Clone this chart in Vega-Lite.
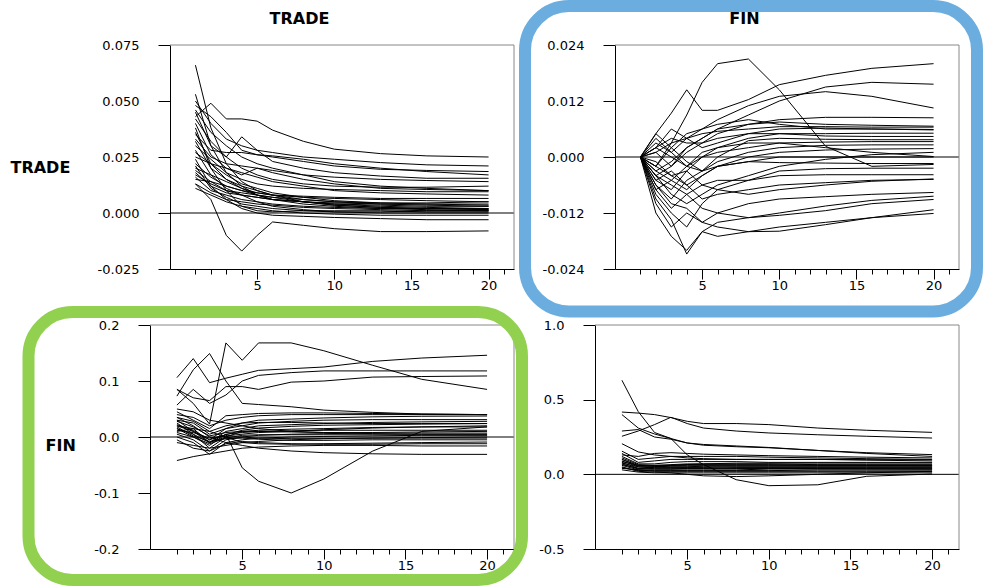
{
"$schema":"https://vega.github.io/schema/vega-lite/v6.json",
"background":"white",
"padding":{"left":10,"top":0,"right":0,"bottom":0},
"autosize":{"type":"pad"},
"columns":2,
"bounds":"flush",
"spacing":{"row":56,"column":81},
"config":{"view":{"stroke":null},"axis":{"grid":false,"domainColor":"black","tickColor":"black","labelColor":"black","labelFont":"DejaVu Sans","labelFontSize":13,"titleFont":"DejaVu Sans","titleFontSize":16,"titleFontWeight":"bold","titleColor":"black","titlePadding":0}},
"datasets":{
"tl":[
{"s":1,"h":1,"v":0.043},{"s":1,"h":2,"v":0.049},{"s":1,"h":3,"v":0.042},{"s":1,"h":4,"v":0.042},{"s":1,"h":5,"v":0.041},{"s":1,"h":6,"v":0.037},{"s":1,"h":8,"v":0.032},{"s":1,"h":10,"v":0.0285},{"s":1,"h":13,"v":0.0265},{"s":1,"h":16,"v":0.0255},{"s":1,"h":20,"v":0.025},
{"s":2,"h":1,"v":0.066},{"s":2,"h":2,"v":0.038},{"s":2,"h":3,"v":0.022},{"s":2,"h":4,"v":0.014},{"s":2,"h":5,"v":0.01},{"s":2,"h":6,"v":0.008},{"s":2,"h":8,"v":0.005},{"s":2,"h":10,"v":0.0035},{"s":2,"h":13,"v":0.0025},{"s":2,"h":16,"v":0.002},{"s":2,"h":20,"v":0.0015},
{"s":3,"h":1,"v":0.053},{"s":3,"h":2,"v":0.03},{"s":3,"h":3,"v":0.018},{"s":3,"h":4,"v":0.012},{"s":3,"h":5,"v":0.008},{"s":3,"h":6,"v":0.006},{"s":3,"h":8,"v":0.004},{"s":3,"h":10,"v":0.003},{"s":3,"h":13,"v":0.002},{"s":3,"h":16,"v":0.0015},{"s":3,"h":20,"v":0.001},
{"s":4,"h":1,"v":0.05},{"s":4,"h":2,"v":0.04},{"s":4,"h":3,"v":0.033},{"s":4,"h":4,"v":0.03},{"s":4,"h":5,"v":0.028},{"s":4,"h":6,"v":0.027},{"s":4,"h":8,"v":0.025},{"s":4,"h":10,"v":0.024},{"s":4,"h":13,"v":0.0225},{"s":4,"h":16,"v":0.0215},{"s":4,"h":20,"v":0.021},
{"s":5,"h":1,"v":0.048},{"s":5,"h":2,"v":0.043},{"s":5,"h":3,"v":0.036},{"s":5,"h":4,"v":0.028},{"s":5,"h":5,"v":0.026},{"s":5,"h":6,"v":0.025},{"s":5,"h":8,"v":0.023},{"s":5,"h":10,"v":0.021},{"s":5,"h":13,"v":0.0195},{"s":5,"h":16,"v":0.019},{"s":5,"h":20,"v":0.0185},
{"s":6,"h":1,"v":0.045},{"s":6,"h":2,"v":0.03},{"s":6,"h":3,"v":0.025},{"s":6,"h":4,"v":0.034},{"s":6,"h":5,"v":0.028},{"s":6,"h":6,"v":0.023},{"s":6,"h":8,"v":0.02},{"s":6,"h":10,"v":0.018},{"s":6,"h":13,"v":0.0165},{"s":6,"h":16,"v":0.0155},{"s":6,"h":20,"v":0.0155},
{"s":7,"h":1,"v":0.04},{"s":7,"h":2,"v":0.026},{"s":7,"h":3,"v":0.02},{"s":7,"h":4,"v":0.017},{"s":7,"h":5,"v":0.02},{"s":7,"h":6,"v":0.019},{"s":7,"h":8,"v":0.017},{"s":7,"h":10,"v":0.016},{"s":7,"h":13,"v":0.015},{"s":7,"h":16,"v":0.0145},{"s":7,"h":20,"v":0.014},
{"s":8,"h":1,"v":0.038},{"s":8,"h":2,"v":0.02},{"s":8,"h":3,"v":0.01},{"s":8,"h":4,"v":0.003},{"s":8,"h":5,"v":0.001},{"s":8,"h":6,"v":0.0005},{"s":8,"h":8,"v":0.001},{"s":8,"h":10,"v":0.001},{"s":8,"h":13,"v":0.001},{"s":8,"h":16,"v":0.0005},{"s":8,"h":20,"v":0.0005},
{"s":9,"h":1,"v":0.033},{"s":9,"h":2,"v":0.025},{"s":9,"h":3,"v":0.022},{"s":9,"h":4,"v":0.021},{"s":9,"h":5,"v":0.02},{"s":9,"h":6,"v":0.018},{"s":9,"h":8,"v":0.015},{"s":9,"h":10,"v":0.013},{"s":9,"h":13,"v":0.011},{"s":9,"h":16,"v":0.0105},{"s":9,"h":20,"v":0.01},
{"s":10,"h":1,"v":0.03},{"s":10,"h":2,"v":0.024},{"s":10,"h":3,"v":0.018},{"s":10,"h":4,"v":0.015},{"s":10,"h":5,"v":0.013},{"s":10,"h":6,"v":0.012},{"s":10,"h":8,"v":0.011},{"s":10,"h":10,"v":0.0105},{"s":10,"h":13,"v":0.01},{"s":10,"h":16,"v":0.0095},{"s":10,"h":20,"v":0.0095},
{"s":11,"h":1,"v":0.025},{"s":11,"h":2,"v":0.022},{"s":11,"h":3,"v":0.02},{"s":11,"h":4,"v":0.018},{"s":11,"h":5,"v":0.016},{"s":11,"h":6,"v":0.014},{"s":11,"h":8,"v":0.012},{"s":11,"h":10,"v":0.01},{"s":11,"h":13,"v":0.009},{"s":11,"h":16,"v":0.0085},{"s":11,"h":20,"v":0.008},
{"s":12,"h":1,"v":0.022},{"s":12,"h":2,"v":0.016},{"s":12,"h":3,"v":0.012},{"s":12,"h":4,"v":0.01},{"s":12,"h":5,"v":0.009},{"s":12,"h":6,"v":0.008},{"s":12,"h":8,"v":0.0075},{"s":12,"h":10,"v":0.007},{"s":12,"h":13,"v":0.0065},{"s":12,"h":16,"v":0.0065},{"s":12,"h":20,"v":0.0065},
{"s":13,"h":1,"v":0.02},{"s":13,"h":2,"v":0.017},{"s":13,"h":3,"v":0.014},{"s":13,"h":4,"v":0.011},{"s":13,"h":5,"v":0.008},{"s":13,"h":6,"v":0.006},{"s":13,"h":8,"v":0.005},{"s":13,"h":10,"v":0.0045},{"s":13,"h":13,"v":0.004},{"s":13,"h":16,"v":0.004},{"s":13,"h":20,"v":0.004},
{"s":14,"h":1,"v":0.018},{"s":14,"h":2,"v":0.012},{"s":14,"h":3,"v":0.009},{"s":14,"h":4,"v":0.008},{"s":14,"h":5,"v":0.007},{"s":14,"h":6,"v":0.006},{"s":14,"h":8,"v":0.005},{"s":14,"h":10,"v":0.004},{"s":14,"h":13,"v":0.0035},{"s":14,"h":16,"v":0.003},{"s":14,"h":20,"v":0.003},
{"s":15,"h":1,"v":0.016},{"s":15,"h":2,"v":0.01},{"s":15,"h":3,"v":0.008},{"s":15,"h":4,"v":0.006},{"s":15,"h":5,"v":0.005},{"s":15,"h":6,"v":0.004},{"s":15,"h":8,"v":0.003},{"s":15,"h":10,"v":0.0025},{"s":15,"h":13,"v":0.002},{"s":15,"h":16,"v":0.002},{"s":15,"h":20,"v":0.002},
{"s":16,"h":1,"v":0.015},{"s":16,"h":2,"v":0.014},{"s":16,"h":3,"v":0.012},{"s":16,"h":4,"v":0.01},{"s":16,"h":5,"v":0.008},{"s":16,"h":6,"v":0.007},{"s":16,"h":8,"v":0.005},{"s":16,"h":10,"v":0.0035},{"s":16,"h":13,"v":0.0025},{"s":16,"h":16,"v":0.002},{"s":16,"h":20,"v":0.0015},
{"s":17,"h":1,"v":0.013},{"s":17,"h":2,"v":0.009},{"s":17,"h":3,"v":0.006},{"s":17,"h":4,"v":0.005},{"s":17,"h":5,"v":0.004},{"s":17,"h":6,"v":0.0035},{"s":17,"h":8,"v":0.0025},{"s":17,"h":10,"v":0.002},{"s":17,"h":13,"v":0.0015},{"s":17,"h":16,"v":0.001},{"s":17,"h":20,"v":0.001},
{"s":18,"h":1,"v":0.013},{"s":18,"h":2,"v":0.006},{"s":18,"h":3,"v":-0.01},{"s":18,"h":4,"v":-0.017},{"s":18,"h":5,"v":-0.01},{"s":18,"h":6,"v":-0.004},{"s":18,"h":8,"v":-0.0055},{"s":18,"h":10,"v":-0.007},{"s":18,"h":13,"v":-0.0083},{"s":18,"h":16,"v":-0.0083},{"s":18,"h":20,"v":-0.008},
{"s":19,"h":1,"v":0.011},{"s":19,"h":2,"v":0.008},{"s":19,"h":3,"v":0.005},{"s":19,"h":4,"v":0.003},{"s":19,"h":5,"v":0.002},{"s":19,"h":6,"v":0.001},{"s":19,"h":8,"v":0},{"s":19,"h":10,"v":-0.0005},{"s":19,"h":13,"v":-0.001},{"s":19,"h":16,"v":-0.001},{"s":19,"h":20,"v":-0.001},
{"s":20,"h":1,"v":0.024},{"s":20,"h":2,"v":0.012},{"s":20,"h":3,"v":0.006},{"s":20,"h":4,"v":0.002},{"s":20,"h":5,"v":0},{"s":20,"h":6,"v":-0.001},{"s":20,"h":8,"v":-0.0015},{"s":20,"h":10,"v":-0.002},{"s":20,"h":13,"v":-0.0025},{"s":20,"h":16,"v":-0.003},{"s":20,"h":20,"v":-0.003},
{"s":21,"h":1,"v":0.019},{"s":21,"h":2,"v":0.014},{"s":21,"h":3,"v":0.01},{"s":21,"h":4,"v":0.008},{"s":21,"h":5,"v":0.005},{"s":21,"h":6,"v":0.003},{"s":21,"h":8,"v":0.0015},{"s":21,"h":10,"v":0.0005},{"s":21,"h":13,"v":0},{"s":21,"h":16,"v":0},{"s":21,"h":20,"v":0},
{"s":22,"h":1,"v":0.028},{"s":22,"h":2,"v":0.017},{"s":22,"h":3,"v":0.011},{"s":22,"h":4,"v":0.008},{"s":22,"h":5,"v":0.007},{"s":22,"h":6,"v":0.006},{"s":22,"h":8,"v":0.005},{"s":22,"h":10,"v":0.004},{"s":22,"h":13,"v":0.003},{"s":22,"h":16,"v":0.0025},{"s":22,"h":20,"v":0.002},
{"s":23,"h":1,"v":0.042},{"s":23,"h":2,"v":0.032},{"s":23,"h":3,"v":0.025},{"s":23,"h":4,"v":0.02},{"s":23,"h":5,"v":0.017},{"s":23,"h":6,"v":0.015},{"s":23,"h":8,"v":0.013},{"s":23,"h":10,"v":0.012},{"s":23,"h":13,"v":0.0115},{"s":23,"h":16,"v":0.0115},{"s":23,"h":20,"v":0.012},
{"s":24,"h":1,"v":0.035},{"s":24,"h":2,"v":0.028},{"s":24,"h":3,"v":0.027},{"s":24,"h":4,"v":0.027},{"s":24,"h":5,"v":0.026},{"s":24,"h":6,"v":0.0255},{"s":24,"h":8,"v":0.024},{"s":24,"h":10,"v":0.022},{"s":24,"h":13,"v":0.02},{"s":24,"h":16,"v":0.0185},{"s":24,"h":20,"v":0.017},
{"s":25,"h":1,"v":0.032},{"s":25,"h":2,"v":0.02},{"s":25,"h":3,"v":0.015},{"s":25,"h":4,"v":0.012},{"s":25,"h":5,"v":0.01},{"s":25,"h":6,"v":0.008},{"s":25,"h":8,"v":0.006},{"s":25,"h":10,"v":0.005},{"s":25,"h":13,"v":0.004},{"s":25,"h":16,"v":0.0035},{"s":25,"h":20,"v":0.003},
{"s":26,"h":1,"v":0.027},{"s":26,"h":2,"v":0.022},{"s":26,"h":3,"v":0.017},{"s":26,"h":4,"v":0.013},{"s":26,"h":5,"v":0.011},{"s":26,"h":6,"v":0.009},{"s":26,"h":8,"v":0.007},{"s":26,"h":10,"v":0.0055},{"s":26,"h":13,"v":0.0045},{"s":26,"h":16,"v":0.004},{"s":26,"h":20,"v":0.0035},
{"s":27,"h":1,"v":0.017},{"s":27,"h":2,"v":0.013},{"s":27,"h":3,"v":0.01},{"s":27,"h":4,"v":0.009},{"s":27,"h":5,"v":0.008},{"s":27,"h":6,"v":0.007},{"s":27,"h":8,"v":0.006},{"s":27,"h":10,"v":0.005},{"s":27,"h":13,"v":0.0045},{"s":27,"h":16,"v":0.0045},{"s":27,"h":20,"v":0.005},
{"s":28,"h":1,"v":0.046},{"s":28,"h":2,"v":0.036},{"s":28,"h":3,"v":0.03},{"s":28,"h":4,"v":0.025},{"s":28,"h":5,"v":0.022},{"s":28,"h":6,"v":0.02},{"s":28,"h":8,"v":0.017},{"s":28,"h":10,"v":0.014},{"s":28,"h":13,"v":0.012},{"s":28,"h":16,"v":0.011},{"s":28,"h":20,"v":0.01},
{"s":29,"h":1,"v":0.021},{"s":29,"h":2,"v":0.011},{"s":29,"h":3,"v":0.007},{"s":29,"h":4,"v":0.004},{"s":29,"h":5,"v":0.003},{"s":29,"h":6,"v":0.002},{"s":29,"h":8,"v":0.001},{"s":29,"h":10,"v":0.0005},{"s":29,"h":13,"v":0.0005},{"s":29,"h":16,"v":0.001},{"s":29,"h":20,"v":0.001},
{"s":30,"h":1,"v":0.036},{"s":30,"h":2,"v":0.022},{"s":30,"h":3,"v":0.015},{"s":30,"h":4,"v":0.011},{"s":30,"h":5,"v":0.009},{"s":30,"h":6,"v":0.008},{"s":30,"h":8,"v":0.007},{"s":30,"h":10,"v":0.0065},{"s":30,"h":13,"v":0.006},{"s":30,"h":16,"v":0.0055},{"s":30,"h":20,"v":0.005}
],
"tr":[
{"s":1,"h":1,"v":0},{"s":1,"h":2,"v":-0.002},{"s":1,"h":3,"v":0.003},{"s":1,"h":4,"v":0.009},{"s":1,"h":5,"v":0.016},{"s":1,"h":6,"v":0.02},{"s":1,"h":8,"v":0.021},{"s":1,"h":10,"v":0.0144},{"s":1,"h":13,"v":0.0023},{"s":1,"h":16,"v":-0.002},{"s":1,"h":20,"v":-0.0016},
{"s":2,"h":1,"v":0},{"s":2,"h":2,"v":0.005},{"s":2,"h":3,"v":0.0094},{"s":2,"h":4,"v":0.0144},{"s":2,"h":5,"v":0.01},{"s":2,"h":6,"v":0.01},{"s":2,"h":8,"v":0.0123},{"s":2,"h":10,"v":0.0155},{"s":2,"h":13,"v":0.0175},{"s":2,"h":16,"v":0.019},{"s":2,"h":20,"v":0.02},
{"s":3,"h":1,"v":0},{"s":3,"h":2,"v":-0.003},{"s":3,"h":3,"v":-0.001},{"s":3,"h":4,"v":0.002},{"s":3,"h":5,"v":0.004},{"s":3,"h":6,"v":0.006},{"s":3,"h":8,"v":0.009},{"s":3,"h":10,"v":0.012},{"s":3,"h":13,"v":0.015},{"s":3,"h":16,"v":0.016},{"s":3,"h":20,"v":0.0156},
{"s":4,"h":1,"v":0},{"s":4,"h":2,"v":0.001},{"s":4,"h":3,"v":0.003},{"s":4,"h":4,"v":0.004},{"s":4,"h":5,"v":0.006},{"s":4,"h":6,"v":0.008},{"s":4,"h":8,"v":0.011},{"s":4,"h":10,"v":0.013},{"s":4,"h":13,"v":0.014},{"s":4,"h":16,"v":0.013},{"s":4,"h":20,"v":0.0105},
{"s":5,"h":1,"v":0},{"s":5,"h":2,"v":-0.004},{"s":5,"h":3,"v":-0.002},{"s":5,"h":4,"v":0.001},{"s":5,"h":5,"v":0.003},{"s":5,"h":6,"v":0.005},{"s":5,"h":8,"v":0.007},{"s":5,"h":10,"v":0.008},{"s":5,"h":13,"v":0.0085},{"s":5,"h":16,"v":0.0085},{"s":5,"h":20,"v":0.0084},
{"s":6,"h":1,"v":0},{"s":6,"h":2,"v":0.003},{"s":6,"h":3,"v":0.001},{"s":6,"h":4,"v":0.004},{"s":6,"h":5,"v":0.005},{"s":6,"h":6,"v":0.0055},{"s":6,"h":8,"v":0.006},{"s":6,"h":10,"v":0.0065},{"s":6,"h":13,"v":0.0065},{"s":6,"h":16,"v":0.0064},{"s":6,"h":20,"v":0.0064},
{"s":7,"h":1,"v":0},{"s":7,"h":2,"v":-0.005},{"s":7,"h":3,"v":-0.007},{"s":7,"h":4,"v":-0.003},{"s":7,"h":5,"v":0},{"s":7,"h":6,"v":0.002},{"s":7,"h":8,"v":0.004},{"s":7,"h":10,"v":0.005},{"s":7,"h":13,"v":0.005},{"s":7,"h":16,"v":0.0051},{"s":7,"h":20,"v":0.0051},
{"s":8,"h":1,"v":0},{"s":8,"h":2,"v":0.002},{"s":8,"h":3,"v":0.004},{"s":8,"h":4,"v":0.003},{"s":8,"h":5,"v":0.003},{"s":8,"h":6,"v":0.004},{"s":8,"h":8,"v":0.005},{"s":8,"h":10,"v":0.005},{"s":8,"h":13,"v":0.0045},{"s":8,"h":16,"v":0.0044},{"s":8,"h":20,"v":0.0044},
{"s":9,"h":1,"v":0},{"s":9,"h":2,"v":-0.006},{"s":9,"h":3,"v":-0.009},{"s":9,"h":4,"v":-0.005},{"s":9,"h":5,"v":-0.003},{"s":9,"h":6,"v":-0.001},{"s":9,"h":8,"v":0.001},{"s":9,"h":10,"v":0.002},{"s":9,"h":13,"v":0.0025},{"s":9,"h":16,"v":0.0026},{"s":9,"h":20,"v":0.0026},
{"s":10,"h":1,"v":0},{"s":10,"h":2,"v":0.002},{"s":10,"h":3,"v":0},{"s":10,"h":4,"v":-0.002},{"s":10,"h":5,"v":0},{"s":10,"h":6,"v":0.001},{"s":10,"h":8,"v":0.002},{"s":10,"h":10,"v":0.003},{"s":10,"h":13,"v":0.0032},{"s":10,"h":16,"v":0.0033},{"s":10,"h":20,"v":0.0033},
{"s":11,"h":1,"v":0},{"s":11,"h":2,"v":-0.003},{"s":11,"h":3,"v":-0.005},{"s":11,"h":4,"v":-0.007},{"s":11,"h":5,"v":-0.004},{"s":11,"h":6,"v":-0.002},{"s":11,"h":8,"v":-0.001},{"s":11,"h":10,"v":0},{"s":11,"h":13,"v":0},{"s":11,"h":16,"v":0},{"s":11,"h":20,"v":0},
{"s":12,"h":1,"v":0},{"s":12,"h":2,"v":-0.008},{"s":12,"h":3,"v":-0.012},{"s":12,"h":4,"v":-0.015},{"s":12,"h":5,"v":-0.01},{"s":12,"h":6,"v":-0.007},{"s":12,"h":8,"v":-0.005},{"s":12,"h":10,"v":-0.003},{"s":12,"h":13,"v":-0.0025},{"s":12,"h":16,"v":-0.0024},{"s":12,"h":20,"v":-0.0024},
{"s":13,"h":1,"v":0},{"s":13,"h":2,"v":-0.004},{"s":13,"h":3,"v":-0.006},{"s":13,"h":4,"v":-0.008},{"s":13,"h":5,"v":-0.006},{"s":13,"h":6,"v":-0.005},{"s":13,"h":8,"v":-0.005},{"s":13,"h":10,"v":-0.004},{"s":13,"h":13,"v":-0.0038},{"s":13,"h":16,"v":-0.0038},{"s":13,"h":20,"v":-0.0038},
{"s":14,"h":1,"v":0},{"s":14,"h":2,"v":-0.002},{"s":14,"h":3,"v":-0.004},{"s":14,"h":4,"v":-0.003},{"s":14,"h":5,"v":-0.006},{"s":14,"h":6,"v":-0.007},{"s":14,"h":8,"v":-0.008},{"s":14,"h":10,"v":-0.007},{"s":14,"h":13,"v":-0.006},{"s":14,"h":16,"v":-0.0052},{"s":14,"h":20,"v":-0.0047},
{"s":15,"h":1,"v":0},{"s":15,"h":2,"v":-0.01},{"s":15,"h":3,"v":-0.015},{"s":15,"h":4,"v":-0.012},{"s":15,"h":5,"v":-0.014},{"s":15,"h":6,"v":-0.012},{"s":15,"h":8,"v":-0.01},{"s":15,"h":10,"v":-0.009},{"s":15,"h":13,"v":-0.0085},{"s":15,"h":16,"v":-0.008},{"s":15,"h":20,"v":-0.0076},
{"s":16,"h":1,"v":0},{"s":16,"h":2,"v":-0.007},{"s":16,"h":3,"v":-0.011},{"s":16,"h":4,"v":-0.008},{"s":16,"h":5,"v":-0.011},{"s":16,"h":6,"v":-0.012},{"s":16,"h":8,"v":-0.013},{"s":16,"h":10,"v":-0.012},{"s":16,"h":13,"v":-0.0105},{"s":16,"h":16,"v":-0.0093},{"s":16,"h":20,"v":-0.0084},
{"s":17,"h":1,"v":0},{"s":17,"h":2,"v":-0.012},{"s":17,"h":3,"v":-0.017},{"s":17,"h":4,"v":-0.02},{"s":17,"h":5,"v":-0.016},{"s":17,"h":6,"v":-0.014},{"s":17,"h":8,"v":-0.013},{"s":17,"h":10,"v":-0.0125},{"s":17,"h":13,"v":-0.0115},{"s":17,"h":16,"v":-0.01},{"s":17,"h":20,"v":-0.0091},
{"s":18,"h":1,"v":0},{"s":18,"h":2,"v":-0.009},{"s":18,"h":3,"v":-0.0134},{"s":18,"h":4,"v":-0.0208},{"s":18,"h":5,"v":-0.016},{"s":18,"h":6,"v":-0.017},{"s":18,"h":8,"v":-0.016},{"s":18,"h":10,"v":-0.0159},{"s":18,"h":13,"v":-0.0145},{"s":18,"h":16,"v":-0.013},{"s":18,"h":20,"v":-0.0113},
{"s":19,"h":1,"v":0},{"s":19,"h":2,"v":-0.006},{"s":19,"h":3,"v":-0.01},{"s":19,"h":4,"v":-0.011},{"s":19,"h":5,"v":-0.014},{"s":19,"h":6,"v":-0.015},{"s":19,"h":8,"v":-0.016},{"s":19,"h":10,"v":-0.015},{"s":19,"h":13,"v":-0.014},{"s":19,"h":16,"v":-0.013},{"s":19,"h":20,"v":-0.0121},
{"s":20,"h":1,"v":0},{"s":20,"h":2,"v":0.004},{"s":20,"h":3,"v":0.001},{"s":20,"h":4,"v":-0.002},{"s":20,"h":5,"v":0.001},{"s":20,"h":6,"v":0.002},{"s":20,"h":8,"v":0.003},{"s":20,"h":10,"v":0.003},{"s":20,"h":13,"v":0.002},{"s":20,"h":16,"v":0.001},{"s":20,"h":20,"v":0.0001},
{"s":21,"h":1,"v":0},{"s":21,"h":2,"v":-0.002},{"s":21,"h":3,"v":0.002},{"s":21,"h":4,"v":0.005},{"s":21,"h":5,"v":0.006},{"s":21,"h":6,"v":0.007},{"s":21,"h":8,"v":0.008},{"s":21,"h":10,"v":0.007},{"s":21,"h":13,"v":0.006},{"s":21,"h":16,"v":0.006},{"s":21,"h":20,"v":0.0059},
{"s":22,"h":1,"v":0},{"s":22,"h":2,"v":-0.007},{"s":22,"h":3,"v":-0.005},{"s":22,"h":4,"v":-0.002},{"s":22,"h":5,"v":-0.003},{"s":22,"h":6,"v":-0.002},{"s":22,"h":8,"v":-0.001},{"s":22,"h":10,"v":-0.0012},{"s":22,"h":13,"v":-0.0013},{"s":22,"h":16,"v":-0.0014},{"s":22,"h":20,"v":-0.0014},
{"s":23,"h":1,"v":0},{"s":23,"h":2,"v":0.005},{"s":23,"h":3,"v":0.002},{"s":23,"h":4,"v":-0.001},{"s":23,"h":5,"v":-0.003},{"s":23,"h":6,"v":0},{"s":23,"h":8,"v":0.0035},{"s":23,"h":10,"v":0.004},{"s":23,"h":13,"v":0.0038},{"s":23,"h":16,"v":0.0037},{"s":23,"h":20,"v":0.0037},
{"s":24,"h":1,"v":0},{"s":24,"h":2,"v":-0.004},{"s":24,"h":3,"v":-0.008},{"s":24,"h":4,"v":-0.01},{"s":24,"h":5,"v":-0.008},{"s":24,"h":6,"v":-0.006},{"s":24,"h":8,"v":-0.004},{"s":24,"h":10,"v":-0.002},{"s":24,"h":13,"v":-0.0005},{"s":24,"h":16,"v":0.0005},{"s":24,"h":20,"v":0.001},
{"s":25,"h":1,"v":0},{"s":25,"h":2,"v":0.002},{"s":25,"h":3,"v":0.006},{"s":25,"h":4,"v":0.004},{"s":25,"h":5,"v":0.002},{"s":25,"h":6,"v":0.003},{"s":25,"h":8,"v":0.005},{"s":25,"h":10,"v":0.006},{"s":25,"h":13,"v":0.0062},{"s":25,"h":16,"v":0.006},{"s":25,"h":20,"v":0.0058},
{"s":26,"h":1,"v":0},{"s":26,"h":2,"v":-0.001},{"s":26,"h":3,"v":-0.004},{"s":26,"h":4,"v":-0.006},{"s":26,"h":5,"v":-0.009},{"s":26,"h":6,"v":-0.008},{"s":26,"h":8,"v":-0.007},{"s":26,"h":10,"v":-0.006},{"s":26,"h":13,"v":-0.0055},{"s":26,"h":16,"v":-0.005},{"s":26,"h":20,"v":-0.0048},
{"s":27,"h":1,"v":0},{"s":27,"h":2,"v":0.001},{"s":27,"h":3,"v":-0.002},{"s":27,"h":4,"v":0.002},{"s":27,"h":5,"v":0.004},{"s":27,"h":6,"v":0.006},{"s":27,"h":8,"v":0.007},{"s":27,"h":10,"v":0.0075},{"s":27,"h":13,"v":0.007},{"s":27,"h":16,"v":0.0068},{"s":27,"h":20,"v":0.0066},
{"s":28,"h":1,"v":0},{"s":28,"h":2,"v":-0.005},{"s":28,"h":3,"v":-0.003},{"s":28,"h":4,"v":-0.006},{"s":28,"h":5,"v":-0.004},{"s":28,"h":6,"v":-0.002},{"s":28,"h":8,"v":0},{"s":28,"h":10,"v":0.001},{"s":28,"h":13,"v":0.0015},{"s":28,"h":16,"v":0.0017},{"s":28,"h":20,"v":0.0018}
],
"bl":[
{"s":1,"h":1,"v":0.085},{"s":1,"h":2,"v":0.06},{"s":1,"h":3,"v":0.023},{"s":1,"h":4,"v":0.168},{"s":1,"h":5,"v":0.137},{"s":1,"h":6,"v":0.168},{"s":1,"h":8,"v":0.168},{"s":1,"h":10,"v":0.154},{"s":1,"h":13,"v":0.128},{"s":1,"h":16,"v":0.103},{"s":1,"h":20,"v":0.085},
{"s":2,"h":1,"v":0.106},{"s":2,"h":2,"v":0.14},{"s":2,"h":3,"v":0.097},{"s":2,"h":4,"v":0.105},{"s":2,"h":5,"v":0.112},{"s":2,"h":6,"v":0.119},{"s":2,"h":8,"v":0.122},{"s":2,"h":10,"v":0.125},{"s":2,"h":13,"v":0.135},{"s":2,"h":16,"v":0.141},{"s":2,"h":20,"v":0.146},
{"s":3,"h":1,"v":0.073},{"s":3,"h":2,"v":0.12},{"s":3,"h":3,"v":0.149},{"s":3,"h":4,"v":0.1},{"s":3,"h":5,"v":0.06},{"s":3,"h":6,"v":0.058},{"s":3,"h":8,"v":0.054},{"s":3,"h":10,"v":0.048},{"s":3,"h":13,"v":0.044},{"s":3,"h":16,"v":0.041},{"s":3,"h":20,"v":0.04},
{"s":4,"h":1,"v":0.085},{"s":4,"h":2,"v":0.07},{"s":4,"h":3,"v":0.065},{"s":4,"h":4,"v":0.09},{"s":4,"h":5,"v":0.09},{"s":4,"h":6,"v":0.085},{"s":4,"h":8,"v":0.098},{"s":4,"h":10,"v":0.1},{"s":4,"h":13,"v":0.107},{"s":4,"h":16,"v":0.108},{"s":4,"h":20,"v":0.109},
{"s":5,"h":1,"v":0.057},{"s":5,"h":2,"v":0.085},{"s":5,"h":3,"v":0.06},{"s":5,"h":4,"v":0.075},{"s":5,"h":5,"v":0.1},{"s":5,"h":6,"v":0.11},{"s":5,"h":8,"v":0.115},{"s":5,"h":10,"v":0.118},{"s":5,"h":13,"v":0.118},{"s":5,"h":16,"v":0.118},{"s":5,"h":20,"v":0.118},
{"s":6,"h":1,"v":0.03},{"s":6,"h":2,"v":0.01},{"s":6,"h":3,"v":-0.01},{"s":6,"h":4,"v":0.005},{"s":6,"h":5,"v":-0.055},{"s":6,"h":6,"v":-0.079},{"s":6,"h":8,"v":-0.1},{"s":6,"h":10,"v":-0.075},{"s":6,"h":13,"v":-0.025},{"s":6,"h":16,"v":0.01},{"s":6,"h":20,"v":0.018},
{"s":7,"h":1,"v":0.04},{"s":7,"h":2,"v":0.035},{"s":7,"h":3,"v":0.02},{"s":7,"h":4,"v":0.03},{"s":7,"h":5,"v":0.035},{"s":7,"h":6,"v":0.038},{"s":7,"h":8,"v":0.04},{"s":7,"h":10,"v":0.04},{"s":7,"h":13,"v":0.04},{"s":7,"h":16,"v":0.04},{"s":7,"h":20,"v":0.04},
{"s":8,"h":1,"v":0.03},{"s":8,"h":2,"v":0.025},{"s":8,"h":3,"v":0.005},{"s":8,"h":4,"v":0.015},{"s":8,"h":5,"v":0.025},{"s":8,"h":6,"v":0.03},{"s":8,"h":8,"v":0.032},{"s":8,"h":10,"v":0.034},{"s":8,"h":13,"v":0.036},{"s":8,"h":16,"v":0.037},{"s":8,"h":20,"v":0.0375},
{"s":9,"h":1,"v":0.02},{"s":9,"h":2,"v":0.01},{"s":9,"h":3,"v":-0.005},{"s":9,"h":4,"v":0.015},{"s":9,"h":5,"v":0.02},{"s":9,"h":6,"v":0.025},{"s":9,"h":8,"v":0.028},{"s":9,"h":10,"v":0.03},{"s":9,"h":13,"v":0.031},{"s":9,"h":16,"v":0.031},{"s":9,"h":20,"v":0.031},
{"s":10,"h":1,"v":0.01},{"s":10,"h":2,"v":0.015},{"s":10,"h":3,"v":-0.01},{"s":10,"h":4,"v":0.01},{"s":10,"h":5,"v":0.015},{"s":10,"h":6,"v":0.02},{"s":10,"h":8,"v":0.022},{"s":10,"h":10,"v":0.024},{"s":10,"h":13,"v":0.026},{"s":10,"h":16,"v":0.027},{"s":10,"h":20,"v":0.028},
{"s":11,"h":1,"v":0.025},{"s":11,"h":2,"v":0.005},{"s":11,"h":3,"v":-0.02},{"s":11,"h":4,"v":0},{"s":11,"h":5,"v":0.01},{"s":11,"h":6,"v":0.012},{"s":11,"h":8,"v":0.014},{"s":11,"h":10,"v":0.015},{"s":11,"h":13,"v":0.017},{"s":11,"h":16,"v":0.018},{"s":11,"h":20,"v":0.018},
{"s":12,"h":1,"v":0.015},{"s":12,"h":2,"v":0},{"s":12,"h":3,"v":-0.015},{"s":12,"h":4,"v":0.005},{"s":12,"h":5,"v":0.008},{"s":12,"h":6,"v":0.01},{"s":12,"h":8,"v":0.011},{"s":12,"h":10,"v":0.012},{"s":12,"h":13,"v":0.012},{"s":12,"h":16,"v":0.012},{"s":12,"h":20,"v":0.012},
{"s":13,"h":1,"v":0.005},{"s":13,"h":2,"v":-0.005},{"s":13,"h":3,"v":-0.025},{"s":13,"h":4,"v":-0.005},{"s":13,"h":5,"v":0},{"s":13,"h":6,"v":0.003},{"s":13,"h":8,"v":0.005},{"s":13,"h":10,"v":0.006},{"s":13,"h":13,"v":0.007},{"s":13,"h":16,"v":0.007},{"s":13,"h":20,"v":0.007},
{"s":14,"h":1,"v":0},{"s":14,"h":2,"v":-0.01},{"s":14,"h":3,"v":-0.031},{"s":14,"h":4,"v":-0.01},{"s":14,"h":5,"v":-0.005},{"s":14,"h":6,"v":-0.002},{"s":14,"h":8,"v":0},{"s":14,"h":10,"v":0.001},{"s":14,"h":13,"v":0.002},{"s":14,"h":16,"v":0.003},{"s":14,"h":20,"v":0.003},
{"s":15,"h":1,"v":-0.01},{"s":15,"h":2,"v":-0.015},{"s":15,"h":3,"v":-0.02},{"s":15,"h":4,"v":-0.015},{"s":15,"h":5,"v":-0.01},{"s":15,"h":6,"v":-0.008},{"s":15,"h":8,"v":-0.005},{"s":15,"h":10,"v":-0.003},{"s":15,"h":13,"v":-0.002},{"s":15,"h":16,"v":-0.002},{"s":15,"h":20,"v":-0.002},
{"s":16,"h":1,"v":-0.042},{"s":16,"h":2,"v":-0.035},{"s":16,"h":3,"v":-0.03},{"s":16,"h":4,"v":-0.025},{"s":16,"h":5,"v":-0.02},{"s":16,"h":6,"v":-0.018},{"s":16,"h":8,"v":-0.016},{"s":16,"h":10,"v":-0.015},{"s":16,"h":13,"v":-0.015},{"s":16,"h":16,"v":-0.016},{"s":16,"h":20,"v":-0.016},
{"s":17,"h":1,"v":0.035},{"s":17,"h":2,"v":0.02},{"s":17,"h":3,"v":0},{"s":17,"h":4,"v":-0.01},{"s":17,"h":5,"v":-0.015},{"s":17,"h":6,"v":-0.02},{"s":17,"h":8,"v":-0.025},{"s":17,"h":10,"v":-0.028},{"s":17,"h":13,"v":-0.03},{"s":17,"h":16,"v":-0.031},{"s":17,"h":20,"v":-0.031},
{"s":18,"h":1,"v":0.02},{"s":18,"h":2,"v":0.015},{"s":18,"h":3,"v":0.01},{"s":18,"h":4,"v":0},{"s":18,"h":5,"v":-0.01},{"s":18,"h":6,"v":-0.012},{"s":18,"h":8,"v":-0.013},{"s":18,"h":10,"v":-0.012},{"s":18,"h":13,"v":-0.011},{"s":18,"h":16,"v":-0.01},{"s":18,"h":20,"v":-0.009},
{"s":19,"h":1,"v":0.05},{"s":19,"h":2,"v":0.045},{"s":19,"h":3,"v":0.03},{"s":19,"h":4,"v":0.025},{"s":19,"h":5,"v":0.02},{"s":19,"h":6,"v":0.015},{"s":19,"h":8,"v":0.01},{"s":19,"h":10,"v":0.008},{"s":19,"h":13,"v":0.006},{"s":19,"h":16,"v":0.005},{"s":19,"h":20,"v":0.005},
{"s":20,"h":1,"v":0.045},{"s":20,"h":2,"v":0.03},{"s":20,"h":3,"v":0.015},{"s":20,"h":4,"v":0.038},{"s":20,"h":5,"v":0.04},{"s":20,"h":6,"v":0.042},{"s":20,"h":8,"v":0.043},{"s":20,"h":10,"v":0.043},{"s":20,"h":13,"v":0.042},{"s":20,"h":16,"v":0.041},{"s":20,"h":20,"v":0.04},
{"s":21,"h":1,"v":0.012},{"s":21,"h":2,"v":0.008},{"s":21,"h":3,"v":-0.002},{"s":21,"h":4,"v":0.002},{"s":21,"h":5,"v":0.005},{"s":21,"h":6,"v":0.008},{"s":21,"h":8,"v":0.01},{"s":21,"h":10,"v":0.013},{"s":21,"h":13,"v":0.016},{"s":21,"h":16,"v":0.018},{"s":21,"h":20,"v":0.02},
{"s":22,"h":1,"v":0.028},{"s":22,"h":2,"v":0.018},{"s":22,"h":3,"v":0.002},{"s":22,"h":4,"v":0.008},{"s":22,"h":5,"v":0.01},{"s":22,"h":6,"v":0.01},{"s":22,"h":8,"v":0.009},{"s":22,"h":10,"v":0.008},{"s":22,"h":13,"v":0.008},{"s":22,"h":16,"v":0.009},{"s":22,"h":20,"v":0.01},
{"s":23,"h":1,"v":0.018},{"s":23,"h":2,"v":0.002},{"s":23,"h":3,"v":-0.008},{"s":23,"h":4,"v":-0.003},{"s":23,"h":5,"v":-0.002},{"s":23,"h":6,"v":-0.004},{"s":23,"h":8,"v":-0.006},{"s":23,"h":10,"v":-0.006},{"s":23,"h":13,"v":-0.005},{"s":23,"h":16,"v":-0.005},{"s":23,"h":20,"v":-0.005},
{"s":24,"h":1,"v":0.022},{"s":24,"h":2,"v":0.012},{"s":24,"h":3,"v":-0.005},{"s":24,"h":4,"v":0.004},{"s":24,"h":5,"v":0.012},{"s":24,"h":6,"v":0.016},{"s":24,"h":8,"v":0.019},{"s":24,"h":10,"v":0.021},{"s":24,"h":13,"v":0.022},{"s":24,"h":16,"v":0.023},{"s":24,"h":20,"v":0.024},
{"s":25,"h":1,"v":0.008},{"s":25,"h":2,"v":0},{"s":25,"h":3,"v":-0.012},{"s":25,"h":4,"v":-0.002},{"s":25,"h":5,"v":0.003},{"s":25,"h":6,"v":0.004},{"s":25,"h":8,"v":0.004},{"s":25,"h":10,"v":0.004},{"s":25,"h":13,"v":0.004},{"s":25,"h":16,"v":0.004},{"s":25,"h":20,"v":0.004},
{"s":26,"h":1,"v":0.035},{"s":26,"h":2,"v":0.028},{"s":26,"h":3,"v":0.01},{"s":26,"h":4,"v":0.02},{"s":26,"h":5,"v":0.025},{"s":26,"h":6,"v":0.026},{"s":26,"h":8,"v":0.026},{"s":26,"h":10,"v":0.025},{"s":26,"h":13,"v":0.024},{"s":26,"h":16,"v":0.024},{"s":26,"h":20,"v":0.024},
{"s":27,"h":1,"v":-0.005},{"s":27,"h":2,"v":-0.02},{"s":27,"h":3,"v":-0.025},{"s":27,"h":4,"v":-0.012},{"s":27,"h":5,"v":-0.008},{"s":27,"h":6,"v":-0.01},{"s":27,"h":8,"v":-0.012},{"s":27,"h":10,"v":-0.013},{"s":27,"h":13,"v":-0.013},{"s":27,"h":16,"v":-0.012},{"s":27,"h":20,"v":-0.012},
{"s":28,"h":1,"v":0.015},{"s":28,"h":2,"v":0.005},{"s":28,"h":3,"v":-0.01},{"s":28,"h":4,"v":0},{"s":28,"h":5,"v":0},{"s":28,"h":6,"v":-0.002},{"s":28,"h":8,"v":-0.003},{"s":28,"h":10,"v":-0.003},{"s":28,"h":13,"v":-0.002},{"s":28,"h":16,"v":-0.001},{"s":28,"h":20,"v":0}
],
"br":[
{"s":1,"h":1,"v":0.63},{"s":1,"h":2,"v":0.42},{"s":1,"h":3,"v":0.28},{"s":1,"h":4,"v":0.24},{"s":1,"h":5,"v":0.13},{"s":1,"h":6,"v":0.065},{"s":1,"h":8,"v":-0.036},{"s":1,"h":10,"v":-0.076},{"s":1,"h":13,"v":-0.07},{"s":1,"h":16,"v":-0.013},{"s":1,"h":20,"v":0.002},
{"s":2,"h":1,"v":0.417},{"s":2,"h":2,"v":0.41},{"s":2,"h":3,"v":0.4},{"s":2,"h":4,"v":0.38},{"s":2,"h":5,"v":0.355},{"s":2,"h":6,"v":0.34},{"s":2,"h":8,"v":0.34},{"s":2,"h":10,"v":0.333},{"s":2,"h":13,"v":0.31},{"s":2,"h":16,"v":0.295},{"s":2,"h":20,"v":0.281},
{"s":3,"h":1,"v":0.255},{"s":3,"h":2,"v":0.29},{"s":3,"h":3,"v":0.333},{"s":3,"h":4,"v":0.382},{"s":3,"h":5,"v":0.34},{"s":3,"h":6,"v":0.31},{"s":3,"h":8,"v":0.29},{"s":3,"h":10,"v":0.277},{"s":3,"h":13,"v":0.265},{"s":3,"h":16,"v":0.255},{"s":3,"h":20,"v":0.243},
{"s":4,"h":1,"v":0.4},{"s":4,"h":2,"v":0.31},{"s":4,"h":3,"v":0.27},{"s":4,"h":4,"v":0.24},{"s":4,"h":5,"v":0.21},{"s":4,"h":6,"v":0.195},{"s":4,"h":8,"v":0.185},{"s":4,"h":10,"v":0.178},{"s":4,"h":13,"v":0.16},{"s":4,"h":16,"v":0.145},{"s":4,"h":20,"v":0.132},
{"s":5,"h":1,"v":0.29},{"s":5,"h":2,"v":0.3},{"s":5,"h":3,"v":0.25},{"s":5,"h":4,"v":0.235},{"s":5,"h":5,"v":0.21},{"s":5,"h":6,"v":0.2},{"s":5,"h":8,"v":0.19},{"s":5,"h":10,"v":0.18},{"s":5,"h":13,"v":0.16},{"s":5,"h":16,"v":0.14},{"s":5,"h":20,"v":0.12},
{"s":6,"h":1,"v":0.205},{"s":6,"h":2,"v":0.15},{"s":6,"h":3,"v":0.13},{"s":6,"h":4,"v":0.12},{"s":6,"h":5,"v":0.11},{"s":6,"h":6,"v":0.105},{"s":6,"h":8,"v":0.1},{"s":6,"h":10,"v":0.1},{"s":6,"h":13,"v":0.1},{"s":6,"h":16,"v":0.098},{"s":6,"h":20,"v":0.098},
{"s":7,"h":1,"v":0.155},{"s":7,"h":2,"v":0.1},{"s":7,"h":3,"v":0.11},{"s":7,"h":4,"v":0.12},{"s":7,"h":5,"v":0.12},{"s":7,"h":6,"v":0.12},{"s":7,"h":8,"v":0.12},{"s":7,"h":10,"v":0.115},{"s":7,"h":13,"v":0.11},{"s":7,"h":16,"v":0.105},{"s":7,"h":20,"v":0.1},
{"s":8,"h":1,"v":0.14},{"s":8,"h":2,"v":0.08},{"s":8,"h":3,"v":0.09},{"s":8,"h":4,"v":0.1},{"s":8,"h":5,"v":0.1},{"s":8,"h":6,"v":0.1},{"s":8,"h":8,"v":0.1},{"s":8,"h":10,"v":0.1},{"s":8,"h":13,"v":0.1},{"s":8,"h":16,"v":0.095},{"s":8,"h":20,"v":0.09},
{"s":9,"h":1,"v":0.12},{"s":9,"h":2,"v":0.07},{"s":9,"h":3,"v":0.07},{"s":9,"h":4,"v":0.08},{"s":9,"h":5,"v":0.085},{"s":9,"h":6,"v":0.085},{"s":9,"h":8,"v":0.085},{"s":9,"h":10,"v":0.08},{"s":9,"h":13,"v":0.08},{"s":9,"h":16,"v":0.08},{"s":9,"h":20,"v":0.08},
{"s":10,"h":1,"v":0.1},{"s":10,"h":2,"v":0.06},{"s":10,"h":3,"v":0.06},{"s":10,"h":4,"v":0.065},{"s":10,"h":5,"v":0.07},{"s":10,"h":6,"v":0.07},{"s":10,"h":8,"v":0.07},{"s":10,"h":10,"v":0.07},{"s":10,"h":13,"v":0.065},{"s":10,"h":16,"v":0.065},{"s":10,"h":20,"v":0.065},
{"s":11,"h":1,"v":0.09},{"s":11,"h":2,"v":0.05},{"s":11,"h":3,"v":0.05},{"s":11,"h":4,"v":0.05},{"s":11,"h":5,"v":0.05},{"s":11,"h":6,"v":0.055},{"s":11,"h":8,"v":0.055},{"s":11,"h":10,"v":0.055},{"s":11,"h":13,"v":0.055},{"s":11,"h":16,"v":0.055},{"s":11,"h":20,"v":0.055},
{"s":12,"h":1,"v":0.08},{"s":12,"h":2,"v":0.04},{"s":12,"h":3,"v":0.035},{"s":12,"h":4,"v":0.035},{"s":12,"h":5,"v":0.04},{"s":12,"h":6,"v":0.04},{"s":12,"h":8,"v":0.045},{"s":12,"h":10,"v":0.045},{"s":12,"h":13,"v":0.045},{"s":12,"h":16,"v":0.045},{"s":12,"h":20,"v":0.045},
{"s":13,"h":1,"v":0.06},{"s":13,"h":2,"v":0.03},{"s":13,"h":3,"v":0.03},{"s":13,"h":4,"v":0.03},{"s":13,"h":5,"v":0.03},{"s":13,"h":6,"v":0.03},{"s":13,"h":8,"v":0.03},{"s":13,"h":10,"v":0.035},{"s":13,"h":13,"v":0.035},{"s":13,"h":16,"v":0.035},{"s":13,"h":20,"v":0.035},
{"s":14,"h":1,"v":0.05},{"s":14,"h":2,"v":0.02},{"s":14,"h":3,"v":0.015},{"s":14,"h":4,"v":0.01},{"s":14,"h":5,"v":0},{"s":14,"h":6,"v":-0.01},{"s":14,"h":8,"v":-0.015},{"s":14,"h":10,"v":-0.01},{"s":14,"h":13,"v":0},{"s":14,"h":16,"v":0.01},{"s":14,"h":20,"v":0.02},
{"s":15,"h":1,"v":0.04},{"s":15,"h":2,"v":0.03},{"s":15,"h":3,"v":0.02},{"s":15,"h":4,"v":0.02},{"s":15,"h":5,"v":0.02},{"s":15,"h":6,"v":0.02},{"s":15,"h":8,"v":0.02},{"s":15,"h":10,"v":0.02},{"s":15,"h":13,"v":0.02},{"s":15,"h":16,"v":0.02},{"s":15,"h":20,"v":0.02},
{"s":16,"h":1,"v":0.03},{"s":16,"h":2,"v":0.015},{"s":16,"h":3,"v":0.01},{"s":16,"h":4,"v":0.01},{"s":16,"h":5,"v":0.01},{"s":16,"h":6,"v":0.01},{"s":16,"h":8,"v":0.01},{"s":16,"h":10,"v":0.01},{"s":16,"h":13,"v":0.01},{"s":16,"h":16,"v":0.01},{"s":16,"h":20,"v":0.01},
{"s":17,"h":1,"v":0.13},{"s":17,"h":2,"v":0.12},{"s":17,"h":3,"v":0.14},{"s":17,"h":4,"v":0.145},{"s":17,"h":5,"v":0.14},{"s":17,"h":6,"v":0.135},{"s":17,"h":8,"v":0.13},{"s":17,"h":10,"v":0.125},{"s":17,"h":13,"v":0.12},{"s":17,"h":16,"v":0.115},{"s":17,"h":20,"v":0.11},
{"s":18,"h":1,"v":0.065},{"s":18,"h":2,"v":0.04},{"s":18,"h":3,"v":0.05},{"s":18,"h":4,"v":0.06},{"s":18,"h":5,"v":0.065},{"s":18,"h":6,"v":0.07},{"s":18,"h":8,"v":0.075},{"s":18,"h":10,"v":0.075},{"s":18,"h":13,"v":0.075},{"s":18,"h":16,"v":0.075},{"s":18,"h":20,"v":0.075},
{"s":19,"h":1,"v":0.11},{"s":19,"h":2,"v":0.065},{"s":19,"h":3,"v":0.06},{"s":19,"h":4,"v":0.06},{"s":19,"h":5,"v":0.06},{"s":19,"h":6,"v":0.06},{"s":19,"h":8,"v":0.06},{"s":19,"h":10,"v":0.06},{"s":19,"h":13,"v":0.06},{"s":19,"h":16,"v":0.06},{"s":19,"h":20,"v":0.06},
{"s":20,"h":1,"v":0.075},{"s":20,"h":2,"v":0.05},{"s":20,"h":3,"v":0.045},{"s":20,"h":4,"v":0.045},{"s":20,"h":5,"v":0.045},{"s":20,"h":6,"v":0.045},{"s":20,"h":8,"v":0.04},{"s":20,"h":10,"v":0.04},{"s":20,"h":13,"v":0.04},{"s":20,"h":16,"v":0.04},{"s":20,"h":20,"v":0.04},
{"s":21,"h":1,"v":0.1},{"s":21,"h":2,"v":0.055},{"s":21,"h":3,"v":0.055},{"s":21,"h":4,"v":0.06},{"s":21,"h":5,"v":0.065},{"s":21,"h":6,"v":0.065},{"s":21,"h":8,"v":0.065},{"s":21,"h":10,"v":0.065},{"s":21,"h":13,"v":0.062},{"s":21,"h":16,"v":0.06},{"s":21,"h":20,"v":0.058},
{"s":22,"h":1,"v":0.045},{"s":22,"h":2,"v":0.025},{"s":22,"h":3,"v":0.025},{"s":22,"h":4,"v":0.025},{"s":22,"h":5,"v":0.025},{"s":22,"h":6,"v":0.025},{"s":22,"h":8,"v":0.025},{"s":22,"h":10,"v":0.025},{"s":22,"h":13,"v":0.028},{"s":22,"h":16,"v":0.028},{"s":22,"h":20,"v":0.028},
{"s":23,"h":1,"v":0.085},{"s":23,"h":2,"v":0.06},{"s":23,"h":3,"v":0.055},{"s":23,"h":4,"v":0.05},{"s":23,"h":5,"v":0.05},{"s":23,"h":6,"v":0.05},{"s":23,"h":8,"v":0.05},{"s":23,"h":10,"v":0.05},{"s":23,"h":13,"v":0.05},{"s":23,"h":16,"v":0.05},{"s":23,"h":20,"v":0.05},
{"s":24,"h":1,"v":0.07},{"s":24,"h":2,"v":0.035},{"s":24,"h":3,"v":0.04},{"s":24,"h":4,"v":0.04},{"s":24,"h":5,"v":0.04},{"s":24,"h":6,"v":0.04},{"s":24,"h":8,"v":0.04},{"s":24,"h":10,"v":0.04},{"s":24,"h":13,"v":0.038},{"s":24,"h":16,"v":0.037},{"s":24,"h":20,"v":0.035}
]
},
"concat":[
{"width":364,"height":224,"layer":[
 {"data":{"name":"tl"},"mark":{"type":"line","color":"black","strokeWidth":1},
  "encoding":{
   "x":{"field":"h","type":"quantitative","scale":{"domain":[-0.65,21.65],"range":[20,364],"nice":false,"zero":false},
    "axis":{"values":[1,2,3,4,5,6,7,8,9,10,11,12,13,14,15,16,17,18,19,20,21],"tickCount":30,"tickSize":{"condition":{"test":"datum.value % 5 === 0","value":10},"value":5},"labelExpr":"datum.value % 5 === 0 ? datum.label : ''","labelPadding":0,"labelFlush":false,"labelOverlap":false,"title":"TRADE","titleX":149,"titleY":-246,"titleAlign":"center","titleBaseline":"alphabetic"}},
   "y":{"field":"v","type":"quantitative","scale":{"domain":[-0.025,0.075],"nice":false,"zero":false},
    "axis":{"values":[-0.025,0,0.025,0.05,0.075],"tickCount":10,"format":".3f","labelExpr":"replace(datum.label, '\u2212', '-')","tickSize":12,"labelPadding":19,"offset":-20,"labelFlush":false,"labelOverlap":false,"title":"TRADE","titleAngle":0,"titleAlign":"left","titleBaseline":"middle","titleX":-160,"titleY":122}},
   "detail":{"field":"s","type":"nominal"}}},
 {"data":{"values":[{}]},"mark":{"type":"rule","color":"black","strokeWidth":1},"encoding":{"x":{"datum":-0.65},"x2":{"datum":21.65},"y":{"datum":0}}},
 {"data":{"values":[{}]},"mark":{"type":"rule","color":"#888888","strokeWidth":1},"encoding":{"x":{"datum":-0.65},"x2":{"datum":21.65},"y":{"datum":0.075}}},
 {"data":{"values":[{}]},"mark":{"type":"rule","color":"#888888","strokeWidth":1},"encoding":{"x":{"datum":21.65},"y":{"datum":-0.025},"y2":{"datum":0.075}}}
]},
{"width":364,"height":224,"resolve":{"scale":{"x":"independent","y":"independent"}},"layer":[
 {"layer":[
  {"data":{"name":"tr"},"mark":{"type":"line","color":"black","strokeWidth":1},
   "encoding":{
    "x":{"field":"h","type":"quantitative","scale":{"domain":[-0.65,21.65],"range":[20,364],"nice":false,"zero":false},
     "axis":{"values":[1,2,3,4,5,6,7,8,9,10,11,12,13,14,15,16,17,18,19,20,21],"tickCount":30,"tickSize":{"condition":{"test":"datum.value % 5 === 0","value":10},"value":5},"labelExpr":"datum.value % 5 === 0 ? datum.label : ''","labelPadding":0,"labelFlush":false,"labelOverlap":false,"title":"FIN","titleX":149,"titleY":-246,"titleAlign":"center","titleBaseline":"alphabetic"}},
    "y":{"field":"v","type":"quantitative","scale":{"domain":[-0.024,0.024],"nice":false,"zero":false},
     "axis":{"values":[-0.024,-0.012,0,0.012,0.024],"tickCount":10,"format":".3f","labelExpr":"replace(datum.label, '\u2212', '-')","tickSize":12,"labelPadding":19,"offset":-20,"labelFlush":false,"labelOverlap":false,"title":null}},
    "detail":{"field":"s","type":"nominal"}}},
  {"data":{"values":[{}]},"mark":{"type":"rule","color":"black","strokeWidth":1},"encoding":{"x":{"datum":-0.65},"x2":{"datum":21.65},"y":{"datum":0}}},
  {"data":{"values":[{}]},"mark":{"type":"rule","color":"#888888","strokeWidth":1},"encoding":{"x":{"datum":-0.65},"x2":{"datum":21.65},"y":{"datum":0.024}}},
  {"data":{"values":[{}]},"mark":{"type":"rule","color":"#888888","strokeWidth":1},"encoding":{"x":{"datum":21.65},"y":{"datum":-0.024},"y2":{"datum":0.024}}}
 ]},
 {"data":{"values":[{}]},"mark":{"type":"rect","filled":false,"color":"#6CADE0","strokeWidth":12,"cornerRadius":44,"opacity":1},
  "encoding":{"x":{"datum":0,"type":"quantitative","scale":{"domain":[0,1],"range":[-70,382],"nice":false,"zero":false},"axis":null},"x2":{"datum":1},
   "y":{"datum":0,"type":"quantitative","scale":{"domain":[0,1],"range":[-39,266.5],"nice":false,"zero":false},"axis":null},"y2":{"datum":1}}}
]},
{"width":364,"height":224,"resolve":{"scale":{"x":"independent","y":"independent"}},"layer":[
 {"layer":[
  {"data":{"name":"bl"},"mark":{"type":"line","color":"black","strokeWidth":1},
   "encoding":{
    "x":{"field":"h","type":"quantitative","scale":{"domain":[-0.65,21.65],"range":[0,364],"nice":false,"zero":false},
     "axis":{"values":[1,2,3,4,5,6,7,8,9,10,11,12,13,14,15,16,17,18,19,20,21],"tickCount":30,"tickSize":{"condition":{"test":"datum.value % 5 === 0","value":10},"value":5},"labelExpr":"datum.value % 5 === 0 ? datum.label : ''","labelPadding":0,"labelFlush":false,"labelOverlap":false,"title":null}},
    "y":{"field":"v","type":"quantitative","scale":{"domain":[-0.2,0.2],"nice":false,"zero":false},
     "axis":{"values":[-0.2,-0.1,0,0.1,0.2],"tickCount":10,"format":".1f","labelExpr":"replace(datum.label, '\u2212', '-')","tickSize":12,"labelPadding":19,"labelFlush":false,"labelOverlap":false,"title":"FIN","titleAngle":0,"titleAlign":"left","titleBaseline":"middle","titleX":-105,"titleY":120}},
    "detail":{"field":"s","type":"nominal"}}},
  {"data":{"values":[{}]},"mark":{"type":"rule","color":"black","strokeWidth":1},"encoding":{"x":{"datum":-0.65},"x2":{"datum":21.65},"y":{"datum":0}}},
  {"data":{"values":[{}]},"mark":{"type":"rule","color":"#888888","strokeWidth":1},"encoding":{"x":{"datum":-0.65},"x2":{"datum":21.65},"y":{"datum":0.2}}},
  {"data":{"values":[{}]},"mark":{"type":"rule","color":"#888888","strokeWidth":1},"encoding":{"x":{"datum":21.65},"y":{"datum":-0.2},"y2":{"datum":0.2}}}
 ]},
 {"data":{"values":[{}]},"mark":{"type":"rect","filled":false,"color":"#92D050","strokeWidth":12,"cornerRadius":44,"opacity":1},
  "encoding":{"x":{"datum":0,"type":"quantitative","scale":{"domain":[0,1],"range":[-121.5,372],"nice":false,"zero":false},"axis":null},"x2":{"datum":1},
   "y":{"datum":0,"type":"quantitative","scale":{"domain":[0,1],"range":[-13,255],"nice":false,"zero":false},"axis":null},"y2":{"datum":1}}}
]},
{"width":364,"height":224,"layer":[
 {"data":{"name":"br"},"mark":{"type":"line","color":"black","strokeWidth":1},
  "encoding":{
   "x":{"field":"h","type":"quantitative","scale":{"domain":[-0.65,21.65],"range":[0,364],"nice":false,"zero":false},
    "axis":{"values":[1,2,3,4,5,6,7,8,9,10,11,12,13,14,15,16,17,18,19,20,21],"tickCount":30,"tickSize":{"condition":{"test":"datum.value % 5 === 0","value":10},"value":5},"labelExpr":"datum.value % 5 === 0 ? datum.label : ''","labelPadding":0,"labelFlush":false,"labelOverlap":false,"title":null}},
   "y":{"field":"v","type":"quantitative","scale":{"domain":[-0.5,1],"nice":false,"zero":false},
    "axis":{"values":[-0.5,0,0.5,1],"tickCount":10,"format":".1f","labelExpr":"replace(datum.label, '\u2212', '-')","tickSize":12,"labelPadding":19,"labelFlush":false,"labelOverlap":false,"title":null}},
   "detail":{"field":"s","type":"nominal"}}},
 {"data":{"values":[{}]},"mark":{"type":"rule","color":"black","strokeWidth":1},"encoding":{"x":{"datum":-0.65},"x2":{"datum":21.65},"y":{"datum":0}}},
 {"data":{"values":[{}]},"mark":{"type":"rule","color":"#888888","strokeWidth":1},"encoding":{"x":{"datum":-0.65},"x2":{"datum":21.65},"y":{"datum":1}}},
 {"data":{"values":[{}]},"mark":{"type":"rule","color":"#888888","strokeWidth":1},"encoding":{"x":{"datum":21.65},"y":{"datum":-0.5},"y2":{"datum":1}}}
]}
]
}
